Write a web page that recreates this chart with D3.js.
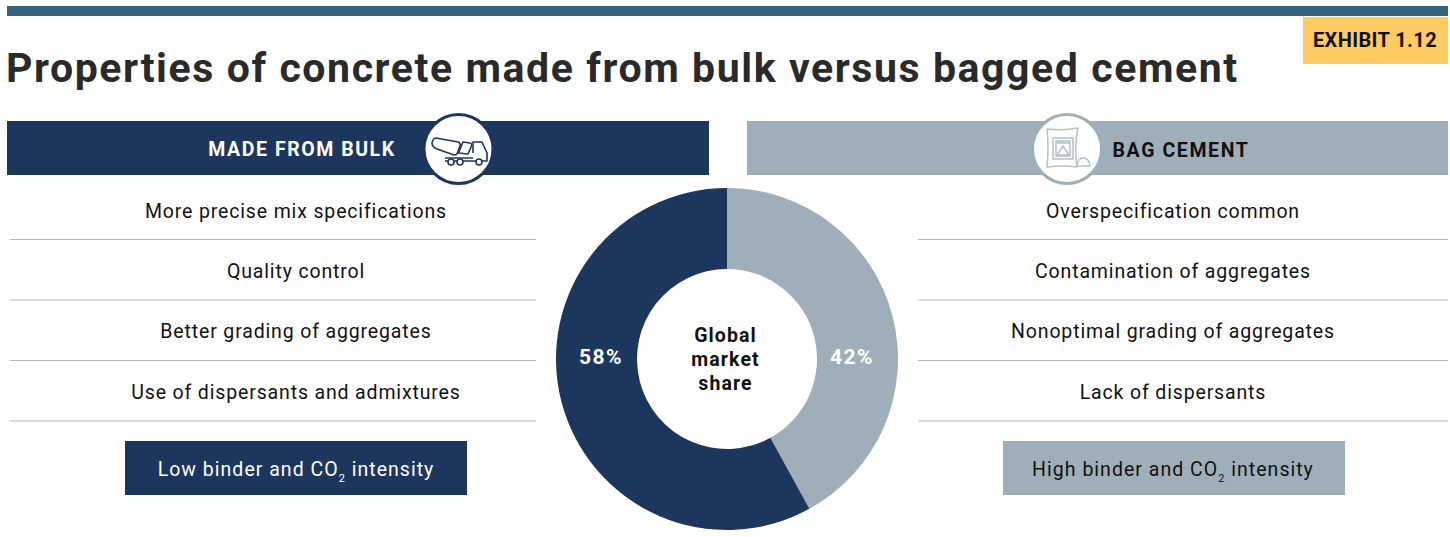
<!DOCTYPE html>
<html><head><meta charset="utf-8">
<script src="https://cdn.jsdelivr.net/npm/d3@7"></script>
<style>html,body{margin:0;background:#fff}svg{display:block}text{font-family:Roboto,"Noto Sans",sans-serif}</style>
</head><body><svg id="c" width="1450" height="537"></svg>
<script>
const titleText = "Properties of concrete made from bulk versus bagged cement";
const exhibit = "EXHIBIT 1.12";
const segments = ["Made from bulk", "Bag cement"];
const shares = [58, 42];
const leftRows = ["More precise mix specifications","Quality control","Better grading of aggregates","Use of dispersants and admixtures"];
const rightRows = ["Overspecification common","Contamination of aggregates","Nonoptimal grading of aggregates","Lack of dispersants"];
const centerLines = ["Global","market","share"];
const NAVY="#1d365d", GREY="#9fafba", INK="#111", BODY=0.85;
const svg=d3.select("#c");
svg.append("rect").attr("x",7).attr("y",6).attr("width",1441).attr("height",10).attr("fill","#35627f");
svg.append("rect").attr("x",1303).attr("y",17).attr("width",145).attr("height",47).attr("fill","#fdcb62");
svg.append("text").attr("x",1375).attr("y",47).attr("text-anchor","middle").attr("font-size",20).attr("font-weight",700).attr("fill",INK).attr("letter-spacing",.4).text(exhibit);
svg.append("text").attr("x",6).attr("y",82).attr("font-size",41).attr("font-weight",700).attr("fill","#2a2a2a").attr("letter-spacing",1.58).text(titleText);
svg.append("rect").attr("x",7).attr("y",121).attr("width",702).attr("height",54).attr("fill",NAVY);
svg.append("rect").attr("x",747).attr("y",121).attr("width",701).attr("height",54).attr("fill",GREY);
svg.append("text").attr("x",302).attr("y",156).attr("text-anchor","middle").attr("font-size",19.5).attr("font-weight",700).attr("fill","#fff").attr("letter-spacing",1.55).text("MADE FROM BULK");
svg.append("text").attr("x",1181).attr("y",157).attr("text-anchor","middle").attr("font-size",19.5).attr("font-weight",700).attr("fill",INK).attr("letter-spacing",1.6).text("BAG CEMENT");

// comparison lists
const rowY=d3.scalePoint().domain(d3.range(4)).range([211,391.5]);
const lineY=d3.scalePoint().domain(d3.range(4)).range([239.5,421]);
function list(rows,cx,x0,x1){
  const g=svg.append("g");
  g.selectAll("text").data(rows).join("text").attr("x",cx).attr("y",(d,i)=>rowY(i)+7).attr("text-anchor","middle").attr("font-size",19.5).attr("letter-spacing",BODY).attr("fill",INK).text(d=>d);
  g.selectAll("line").data(rows).join("line").attr("x1",x0).attr("x2",x1).attr("y1",(d,i)=>lineY(i)).attr("y2",(d,i)=>lineY(i)).attr("stroke","#b5b5b5");
}
list(leftRows,296,10,536);
list(rightRows,1173,918,1448);

function badge(x,w,fill,color,lead,cx){
  svg.append("rect").attr("x",x).attr("y",441).attr("width",w).attr("height",54).attr("fill",fill);
  const t=svg.append("text").attr("x",cx).attr("y",476).attr("text-anchor","middle").attr("font-size",19.5).attr("letter-spacing",1.02).attr("fill",color);
  t.append("tspan").text(lead+" binder and CO");
  t.append("tspan").attr("font-size",11).attr("dy",6).text("2");
  t.append("tspan").attr("dy",-6).text(" intensity");
}
badge(125,342,NAVY,"#fff","Low",296);
badge(1003,342,GREY,INK,"High",1173);

// market share donut, grey slice first so it runs clockwise from twelve o'clock
const cx=727,cy=359;
const slices=[{v:shares[1],c:GREY,x:125},{v:shares[0],c:NAVY,x:-126}];
const pie=d3.pie().sort(null).value(d=>d.v);
const arc=d3.arc().innerRadius(90).outerRadius(171);
const g=svg.append("g").attr("transform",`translate(${cx},${cy})`);
g.selectAll("path").data(pie(slices)).join("path").attr("d",arc).attr("fill",d=>d.data.c);
g.selectAll("text.v").data(pie(slices)).join("text").attr("class","v").attr("x",d=>d.data.x).attr("y",5).attr("text-anchor","middle").attr("font-size",21).attr("font-weight",700).attr("letter-spacing",1.4).attr("fill","#fff").text(d=>d.data.v+"%");
svg.append("g").selectAll("text").data(centerLines).join("text").attr("x",725.500).attr("y",(d,i)=>342+i*24).attr("text-anchor","middle").attr("font-size",19.5).attr("font-weight",700).attr("letter-spacing",1.1).attr("fill",INK).text(d=>d);

// header icons
function circle(x,stroke){svg.append("circle").attr("cx",x).attr("cy",149).attr("r",34.5).attr("fill","#fff").attr("stroke",stroke).attr("stroke-width",3);}
circle(458.5,NAVY);circle(1067,GREY);
const truck=svg.append("g").attr("fill","none").attr("stroke",NAVY).attr("stroke-width",1.6).attr("stroke-linejoin","round");
truck.append("path").attr("d","M436 138 L458 142 Q461 143 460 146 L457 154 Q456 155 454 155 L437 149 Q432 147 432 143 Q433 138 436 138Z");
truck.append("path").attr("d","M463 142 L470 143 Q472 143 471.500 146 L468 154 L458.500 153Z");
truck.append("path").attr("d","M473 153 V142 H482 L487 153 V161 H473");
truck.append("path").attr("d","M445 158 H473 M445 161 H473");
truck.selectAll("circle").data([451,460,479]).join("circle").attr("cx",d=>d).attr("cy",162).attr("r",3).attr("fill","#fff");
const bag=svg.append("g").attr("fill","none").attr("stroke","#b3c0c9").attr("stroke-width",1.5).attr("stroke-linejoin","round");
bag.append("path").attr("d","M1047 129 Q1062 131 1078 128 Q1074 148 1077 167 Q1062 165 1047 167 Q1049 148 1047 129Z");
bag.append("path").attr("d","M1053 138h20v21h-20z M1056 141h14v15h-14z M1057 143h12");
bag.append("path").attr("d","M1057 155l6-9 6 9z");
bag.append("path").attr("d","M1077 166 q1-8 6-8 q6 0 7 8z");
</script></body></html>
